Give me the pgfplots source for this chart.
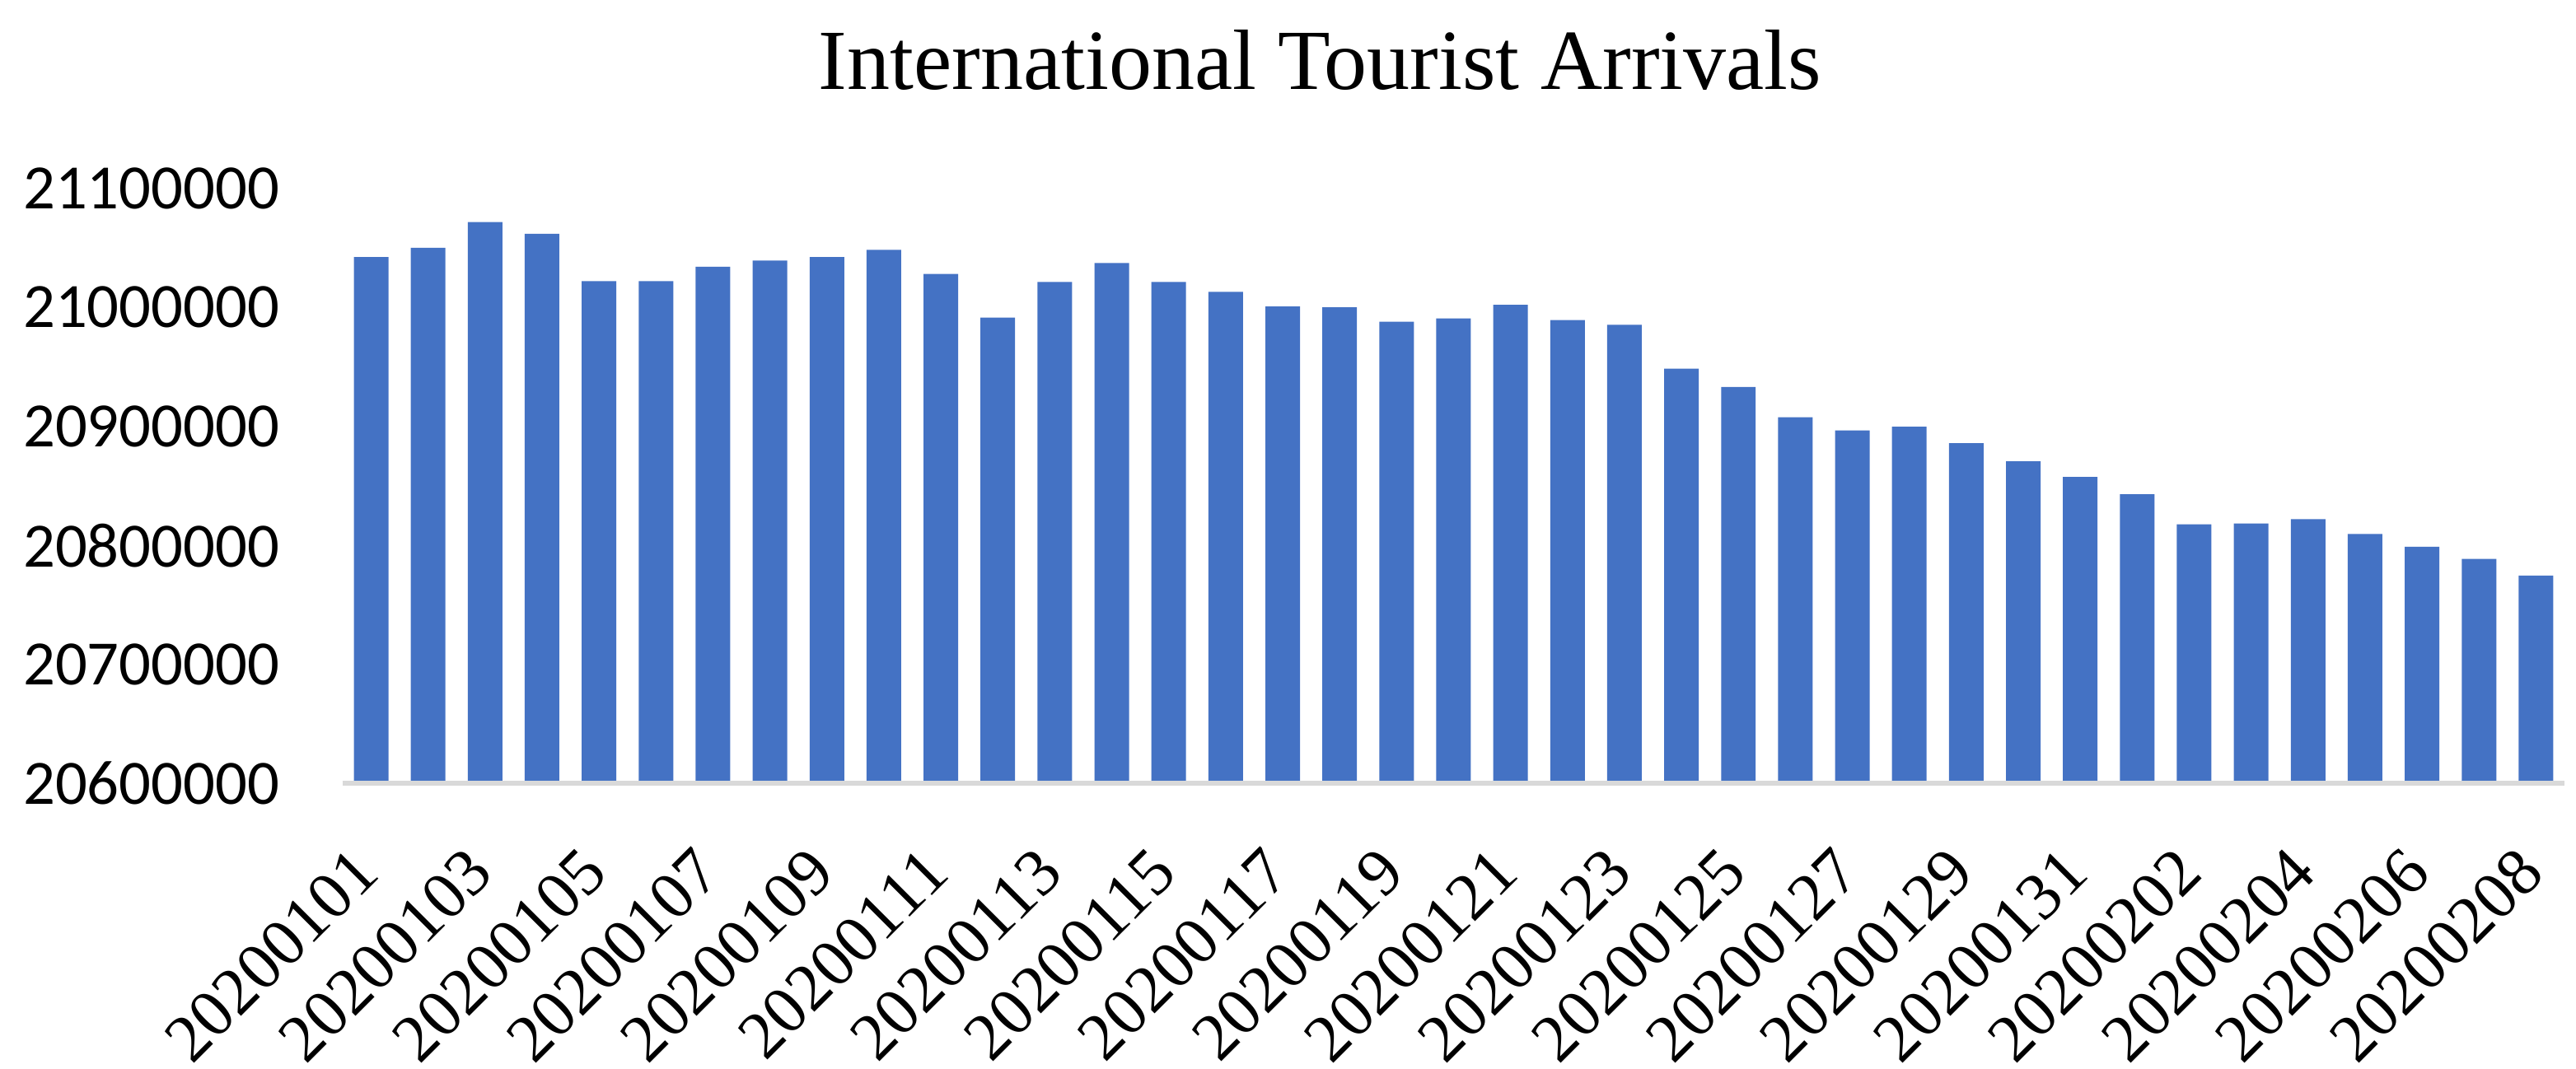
\documentclass[border=0pt]{standalone}
\usepackage{fontspec}
\setmainfont{Liberation Serif}
\newfontfamily\carlito{Carlito}
\newfontfamily\timesfont{Liberation Serif}
\usepackage{pgfplots}
\pgfplotsset{compat=1.18}
\definecolor{barblue}{HTML}{4472C4}
\definecolor{axisgray}{HTML}{D9D9D9}
\newcommand{\xl}[1]{\mbox{\timesfont\fontsize{12.2}{14}\selectfont #1}}

\begin{document}
\begin{tikzpicture}
\begin{axis}[
    scale only axis,
    width=404.6pt, height=108.3pt,
    xmin=-0.5, xmax=38.5,
    ymin=20600000, ymax=21100000,
    ytick={20600000,20700000,20800000,20900000,21000000,21100000},
    scaled y ticks=false,
    /pgf/number format/.cd, fixed, precision=0, 1000 sep={}, assume math mode=true,
    /pgfplots/.cd,
    xtick={0,2,...,38},
    xticklabels={\xl{20200101},\xl{20200103},\xl{20200105},\xl{20200107},\xl{20200109},
        \xl{20200111},\xl{20200113},\xl{20200115},\xl{20200117},\xl{20200119},
        \xl{20200121},\xl{20200123},\xl{20200125},\xl{20200127},\xl{20200129},
        \xl{20200131},\xl{20200202},\xl{20200204},\xl{20200206},\xl{20200208}},
    major tick length=0pt,
    axis line style={draw=none},
    yticklabel style={font=\carlito\fontsize{11.5}{12}\selectfont, xshift=-8pt},
    xticklabel style={rotate=45, anchor=east, inner sep=0pt, xshift=-10.4pt, yshift=-9.3pt},
    title={International Tourist Arrivals},
    title style={font=\timesfont\fontsize{15.6}{18}\selectfont, at={(0.5,1)}, anchor=base, xshift=-24.3pt, yshift=12pt},
    ybar, bar width=6.3pt,
    clip=false,
]
\addplot[fill=barblue, draw=none] coordinates {
(0,21042400) (1,21050200) (2,21071900) (3,21061900) (4,21022100)
(5,21022100) (6,21034200) (7,21039500) (8,21042400) (9,21048400)
(10,21028200) (11,20991500) (12,21021400) (13,21037400) (14,21021400)
(15,21013200) (16,21000800) (17,21000100) (18,20988000) (19,20990800)
(20,21002200) (21,20989400) (22,20985500) (23,20948500) (24,20933200)
(25,20907600) (26,20896600) (27,20899800) (28,20885900) (29,20870600)
(30,20857500) (31,20842900) (32,20817600) (33,20818400) (34,20821900)
(35,20809500) (36,20798800) (37,20788500) (38,20774600)
};
\draw[axisgray, line width=1pt] (rel axis cs:0,0) -- (rel axis cs:1,0);
\end{axis}
\pgfresetboundingbox
\useasboundingbox ([shift={(-62.4pt,-52.05pt)}]current axis.south west)
    rectangle ([shift={(2.1pt,34.35pt)}]current axis.north east);
\end{tikzpicture}
\end{document}
